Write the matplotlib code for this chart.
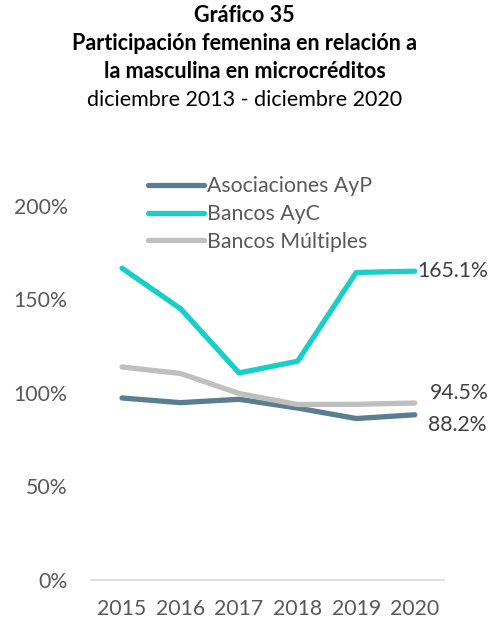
import matplotlib.pyplot as plt
import numpy as np

plt.rcParams["font.family"] = ["Lato", "DejaVu Sans"]

years = ["2015", "2016", "2017", "2018", "2019", "2020"]
asociaciones = [97.2, 94.7, 96.5, 91.8, 86.2, 88.2]
bancos_ayc = [166.7, 145.0, 110.6, 116.9, 164.4, 165.1]
bancos_multiples = [113.8, 110.3, 99.6, 93.7, 93.8, 94.5]
yticks = [0, 50, 100, 150, 200]

series = [
    ("Asociaciones AyP", asociaciones, "#5A7D92"),
    ("Bancos AyC", bancos_ayc, "#17CFC7"),
    ("Bancos Múltiples", bancos_multiples, "#BFBFBF"),
]

W, H = 489, 623
fs = 15.3
fig = plt.figure(figsize=(W / 100, H / 100), dpi=100)
ax = fig.add_axes([91 / W, (H - 579.5) / H, (444 - 91) / W, (579.5 - 206) / H])

x = np.arange(len(years))
handles = []
for name, vals, col in series:
    (ln,) = ax.plot(x, vals, color=col, linewidth=3.8, solid_capstyle="round",
                    solid_joinstyle="round", label=name)
    handles.append(ln)

# end-of-line labels
txt_col = "#404040"
ax.annotate(f"{bancos_ayc[-1]:.1f}%", (x[-1], bancos_ayc[-1]), xytext=(3, 0),
            textcoords="offset pixels", va="center", ha="left", fontsize=fs,
            color=txt_col, annotation_clip=False)
ax.annotate(f"{bancos_multiples[-1]:.1f}%", (x[-1], bancos_multiples[-1]), xytext=(15, 10),
            textcoords="offset pixels", va="center", ha="left", fontsize=fs,
            color=txt_col, annotation_clip=False)
ax.annotate(f"{asociaciones[-1]:.1f}%", (x[-1], asociaciones[-1]), xytext=(13, -10),
            textcoords="offset pixels", va="center", ha="left", fontsize=fs,
            color=txt_col, annotation_clip=False)

ax.set_xlim(-0.53, 5.5)
ax.set_ylim(0, 200)
ax.set_xticks(x)
ax.set_xticklabels(years)
ax.set_yticks(yticks)
ax.set_yticklabels([f"{v}%" for v in yticks])
ax.tick_params(axis="both", length=0, labelsize=fs, colors="#595959")
ax.tick_params(axis="y", pad=17)
ax.tick_params(axis="x", pad=14)
for s in ["top", "right", "left"]:
    ax.spines[s].set_visible(False)
ax.spines["bottom"].set_color("#D9D9D9")
ax.spines["bottom"].set_linewidth(1.2)

fig.legend(handles=handles, loc="upper left", bbox_to_anchor=(140 / W, 1 - 168 / H),
           frameon=False, fontsize=fs, handlelength=2.6, handletextpad=0.15,
           labelspacing=0.36, labelcolor="#595959", borderaxespad=0)

tfs = 15.5
fig.text(0.5, 1 - 15 / H, "Gráfico 35", ha="center", va="center",
         fontsize=tfs, fontweight="bold", color="#000000")
fig.text(0.5, 1 - 44 / H, "Participación femenina en relación a", ha="center",
         va="center", fontsize=tfs, fontweight="bold", color="#000000")
fig.text(0.5, 1 - 71 / H, "la masculina en microcréditos", ha="center",
         va="center", fontsize=tfs, fontweight="bold", color="#000000")
fig.text(0.5, 1 - 100 / H, "diciembre 2013 - diciembre 2020", ha="center",
         va="center", fontsize=tfs, color="#000000")

fig.savefig("out.png", dpi=100)
